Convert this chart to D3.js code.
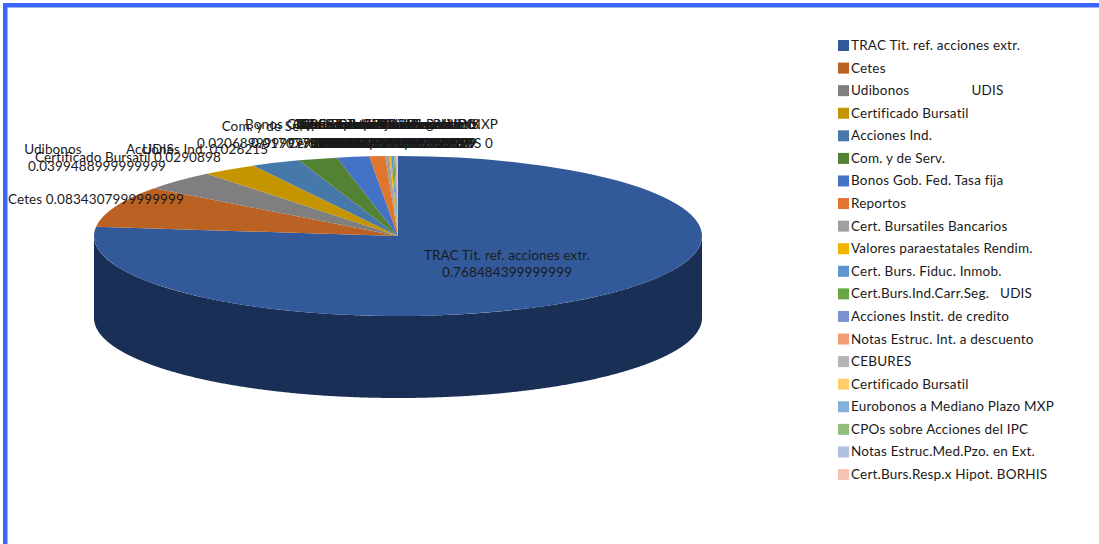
<!DOCTYPE html>
<html>
<head>
<meta charset="utf-8">
<script src="https://cdnjs.cloudflare.com/ajax/libs/d3/7.8.5/d3.min.js"></script>
<style>
html, body { margin: 0; padding: 0; background: #fff; }
svg { display: block; }
text { font-family: Lato, "Open Sans", sans-serif; fill: #1a1a1a; white-space: pre; }
</style>
</head>
<body>
<svg id="chart" width="1099" height="544"></svg>
<script>
const categories = [
  "TRAC Tit. ref. acciones extr.", "Cetes", "Udibonos                 UDIS", "Certificado Bursatil",
  "Acciones Ind.", "Com. y de Serv.", "Bonos Gob. Fed. Tasa fija", "Reportos",
  "Cert. Bursatiles Bancarios", "Valores paraestatales Rendim.", "Cert. Burs. Fiduc. Inmob.",
  "Cert.Burs.Ind.Carr.Seg.   UDIS", "Acciones Instit. de credito", "Notas Estruc. Int. a descuento",
  "CEBURES", "Certificado Bursatil", "Eurobonos a Mediano Plazo MXP", "CPOs sobre Acciones del IPC",
  "Notas Estruc.Med.Pzo. en Ext.", "Cert.Burs.Resp.x Hipot. BORHIS"
];
const values = [
  0.768484399999999, 0.0834307999999999, 0.0399488999999999, 0.0290898,
  0.026215, 0.0206899999999999, 0.0170779999999999, 0.00839999999999999,
  0.00209999999999999, 0.00100000000000001, 0.000899999999999999, 0.000799999999999999,
  0.000599999999999999, 0.000399999999999999, 0.000299999999999999, 0.000199999999999999,
  0.000199999999999998, 0.000099999999999999, 0.000099999999999998, 0
];
const colors = [
  "#325a9a", "#bb6124", "#7f7f7f", "#c49500", "#4679a9", "#548235", "#4472c4", "#e0752e",
  "#a0a0a0", "#f2b500", "#5b96cf", "#6aa544", "#7c92cf", "#f29c74", "#b5b5b5", "#ffcb6b",
  "#85b0dc", "#92bd7c", "#b1bfe0", "#f5c3b2"
];

const width = 1099, height = 544;
const cx = 398, cy = 236, rx = 304, ry = 80, depth = 82;

const svg = d3.select("#chart");

// frame, only top and left are visible
svg.append("rect").attr("x", 3).attr("y", 3).attr("width", width).attr("height", 4.5).attr("fill", "#3a66ff");
svg.append("rect").attr("x", 3).attr("y", 3).attr("width", 4.5).attr("height", height).attr("fill", "#3a66ff");

const pie = d3.pie().sort(null).value(d => d)(values);
const arc = d3.arc().innerRadius(0).outerRadius(rx);

// side wall, only the front half of the ellipse
const wall = d3.area()
  .x(a => cx + rx * Math.sin(a))
  .y0(a => cy - ry * Math.cos(a))
  .y1(a => cy - ry * Math.cos(a) + depth);

pie.forEach((p, i) => {
  const a0 = Math.max(p.startAngle, Math.PI / 2);
  const a1 = Math.min(p.endAngle, 3 * Math.PI / 2);
  if (a1 <= a0) return;
  const c = d3.rgb(colors[i]);
  svg.append("path")
    .attr("d", wall(d3.range(a0, a1, 0.005).concat(a1)))
    .attr("fill", d3.rgb(c.r * 0.52, c.g * 0.52, c.b * 0.55));
});

// top face: a flat pie squashed into an ellipse
svg.append("g")
  .attr("transform", `translate(${cx},${cy}) scale(1,${ry / rx})`)
  .selectAll("path")
  .data(pie)
  .enter().append("path")
  .attr("d", arc)
  .attr("fill", (d, i) => colors[i]);

// labels: x centre of name, baseline of name, x centre of value, baseline of value.
// hand placed, the top ones really do pile up like this in the original
const labelSpots = [
  [507, 260, 507, 277], [0, 0, 0, 0], [99, 153.5, 97, 170.5], [0, 0, 0, 0],
  [0, 0, 0, 0], [268, 130.5, 266, 147.5], [320, 128.5, 320, 147.5], [375, 128.5, 381, 147.5],
  [370, 128.5, 384, 147.5], [385, 128.5, 388, 147.5], [380, 128.5, 392, 147.5], [390, 128.5, 396, 147.5],
  [385, 128.5, 399, 147.5], [386, 128.5, 400, 147.5], [392, 128.5, 398, 147.5], [395, 128.5, 395, 147.5],
  [398, 128.5, 392, 147.5], [388, 128.5, 390, 147.5], [390, 128.5, 388, 147.5], [0, 0, 0, 0]
];
// these sit on one line: left x and baseline
const inlineSpots = new Map([[1, [8, 203.5]], [3, [35, 161.5]], [4, [126, 153.5]], [19, [288, 147.5]]]);

const labels = svg.append("g").attr("font-size", 13.5).attr("letter-spacing", 0.1);
categories.forEach((name, i) => {
  if (inlineSpots.has(i)) {
    const [x, y] = inlineSpots.get(i);
    labels.append("text").attr("x", x).attr("y", y).text(`${name} ${values[i]}`);
  } else {
    const [nx, ny, vx, vy] = labelSpots[i];
    labels.append("text").attr("x", nx).attr("y", ny).attr("text-anchor", "middle").text(name);
    labels.append("text").attr("x", vx).attr("y", vy).attr("text-anchor", "middle").text(values[i]);
  }
});

// legend
const legendY = d3.scalePoint().domain(d3.range(categories.length)).range([45.5, 474.5]);
const legend = svg.append("g").selectAll("g")
  .data(categories)
  .enter().append("g")
  .attr("transform", (d, i) => `translate(838,${legendY(i)})`);
legend.append("rect").attr("y", -5.5).attr("width", 11).attr("height", 11).attr("fill", (d, i) => colors[i]);
legend.append("text").attr("x", 13).attr("y", 4.5).attr("font-size", 13.5).attr("letter-spacing", 0.2).text(d => d);
</script>
</body>
</html>
